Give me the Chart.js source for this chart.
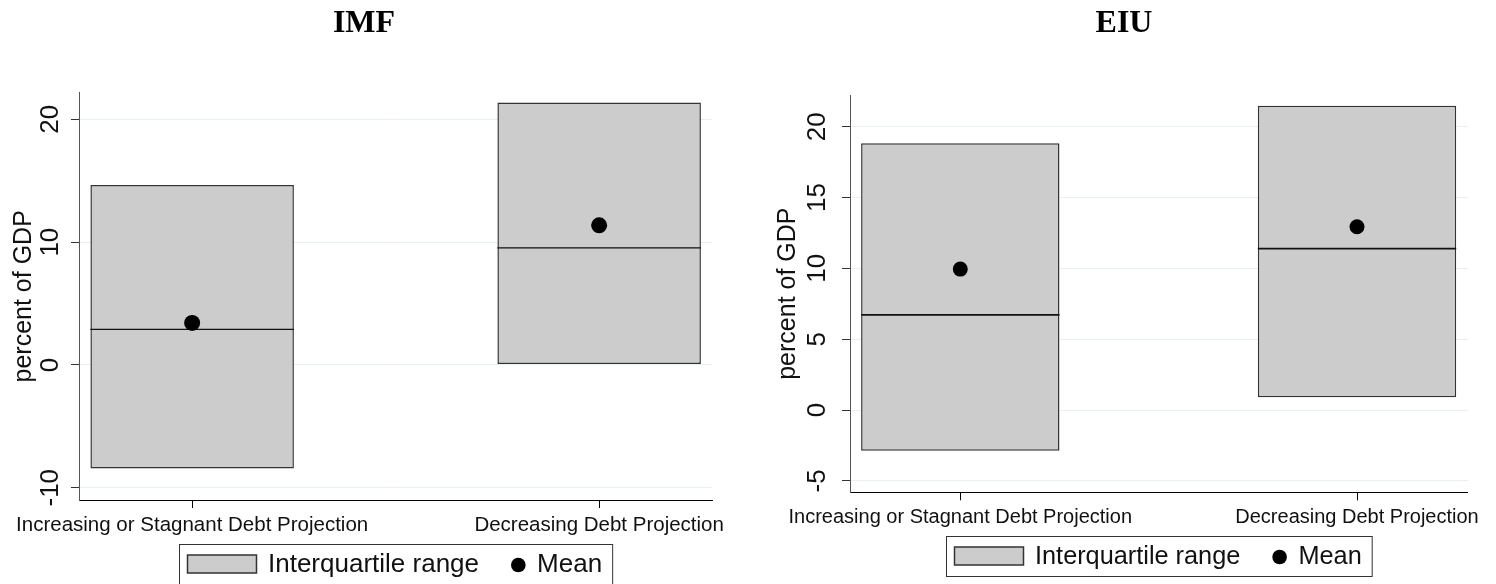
<!DOCTYPE html>
<html>
<head>
<meta charset="utf-8">
<script src="https://cdn.jsdelivr.net/npm/chart.js@4.4.0/dist/chart.umd.min.js"></script>
<style>
  html, body { margin: 0; padding: 0; background: #fff; }
  #wrap { position: relative; width: 1496px; height: 584px; overflow: hidden; }
  .panel { position: absolute; top: 0; width: 748px; height: 584px; }
  .title {
    position: absolute; top: 5px; z-index: 2;
    font: bold 32px "Liberation Serif", "Times New Roman", serif;
    line-height: 32px; white-space: nowrap; transform: translateX(-50%);
  }
</style>
</head>
<body>
<div id="wrap">
  <div class="panel" style="left:0"><canvas id="imfChart" width="748" height="584"></canvas></div>
  <div class="panel" style="left:748px"><canvas id="eiuChart" width="748" height="584"></canvas></div>
  <div class="title" style="left:364px">IMF</div>
  <div class="title" style="left:1124px">EIU</div>
</div>
<script>
const categories = ['Increasing or Stagnant Debt Projection', 'Decreasing Debt Projection'];
const legendLabels = ['Interquartile range', 'Mean'];

// IMF panel (percent of GDP)
const imfQ1 = [-8.44, 0.08];
const imfQ3 = [14.66, 21.38];
const imfMedian = [2.90, 9.53];
const imfMean = [3.42, 11.37];
const imfTicks = [-10, 0, 10, 20];

// EIU panel (percent of GDP)
const eiuQ1 = [-2.87, 0.90];
const eiuQ3 = [18.83, 21.48];
const eiuMedian = [6.71, 11.39];
const eiuMean = [9.95, 12.94];
const eiuTicks = [-5, 0, 5, 10, 15, 20];

Chart.defaults.font.family = '"Liberation Sans", Arial, Helvetica, sans-serif';
Chart.defaults.color = '#111';

const halfBox = 0.25; // matches barPercentage 0.5 of a one-unit gap

// boxed legend under the plot, like the Stata one
const legendBox = {
  id: 'legendBox',
  afterDraw(chart, args, opts) {
    const ctx = chart.ctx;
    const area = chart.chartArea;
    ctx.save();
    ctx.font = opts.fontSize + 'px "Liberation Sans", Arial, sans-serif';
    const w1 = ctx.measureText(legendLabels[0]).width;
    const w2 = ctx.measureText(legendLabels[1]).width;
    const padL = 8.5, swW = 69, swH = 18, gap = 11.5, gap2 = 32, dotR = 7.3, padR = 10, h = 40;
    const width = padL + swW + gap + w1 + gap2 + 2 * dotR + gap + w2 + padR;
    const left = Math.round((area.left + area.right) / 2 - width / 2);
    const top = Math.round(area.bottom + opts.offset);
    const cy = top + h / 2;

    ctx.strokeStyle = '#333';
    ctx.lineWidth = 1;
    ctx.strokeRect(left + 0.5, top + 0.5, width, h);

    let x = left + padL;
    ctx.fillStyle = '#cccccc';
    ctx.fillRect(x, cy - swH / 2, swW, swH);
    ctx.lineWidth = 1.5;
    ctx.strokeStyle = '#333';
    ctx.strokeRect(x, cy - swH / 2, swW, swH);
    x += swW + gap;

    ctx.fillStyle = '#111';
    ctx.textBaseline = 'middle';
    ctx.textAlign = 'left';
    ctx.fillText(legendLabels[0], x, cy + 1);
    x += w1 + gap2;

    ctx.beginPath();
    ctx.arc(x + dotR, cy + 1, dotR, 0, Math.PI * 2);
    ctx.fillStyle = '#000';
    ctx.fill();
    x += 2 * dotR + gap;

    ctx.fillStyle = '#111';
    ctx.fillText(legendLabels[1], x, cy + 1);
    ctx.restore();
  }
};

function makeChart(id, q1, q3, med, mean, ticks, o) {
  const boxes = categories.map((c, i) => ({ x: i + 1, y: [q1[i], q3[i]] }));
  const medianPts = [];
  med.forEach((m, i) => {
    medianPts.push({ x: i + 1 - halfBox, y: m }, { x: i + 1 + halfBox, y: m }, { x: i + 1.5, y: null });
  });
  const meanPts = mean.map((m, i) => ({ x: i + 1, y: m }));

  return new Chart(document.getElementById(id), {
    type: 'bar',
    data: {
      datasets: [
        {
          label: 'Interquartile range',
          data: boxes,
          backgroundColor: '#cccccc',
          borderColor: '#333',
          borderWidth: 1.5,
          borderSkipped: false,
          categoryPercentage: 1,
          barPercentage: 0.5,
          order: 3
        },
        {
          type: 'line',
          label: 'Median',
          data: medianPts,
          borderColor: '#111',
          borderWidth: o.medWidth,
          pointRadius: 0,
          spanGaps: false,
          order: 2
        },
        {
          type: 'scatter',
          label: 'Mean',
          data: meanPts,
          backgroundColor: '#000',
          borderWidth: 0,
          pointRadius: o.dotR,
          order: 1
        }
      ]
    },
    options: {
      responsive: false,
      animation: false,
      layout: { padding: o.padding },
      plugins: {
        legend: { display: false },
        tooltip: { enabled: false },
        legendBox: { fontSize: o.legendFont, offset: 44 }
      },
      scales: {
        x: {
          type: 'linear',
          offset: false,
          min: 0.722,
          max: 2.279,
          afterBuildTicks: s => { s.ticks = categories.map((c, i) => ({ value: i + 1 })); },
          afterFit: s => { s.height = 40; s.paddingLeft = 0; s.paddingRight = 0; },
          grid: { offset: false, drawOnChartArea: false, drawTicks: true, tickLength: 8, tickColor: '#000' },
          border: { color: '#000', width: 1 },
          ticks: {
            autoSkip: false, maxRotation: 0, padding: 5, color: '#111',
            font: { size: o.xFont },
            callback: v => categories[v - 1]
          }
        },
        y: {
          min: o.yMin,
          max: o.yMax,
          afterBuildTicks: s => { s.ticks = ticks.map(v => ({ value: v })); },
          afterFit: s => { s.width = o.yWidth; },
          grid: { color: '#e8f0f2', lineWidth: 1, tickLength: 8, tickColor: '#333' },
          border: { color: '#555', width: 1 },
          ticks: {
            minRotation: 90, maxRotation: 90, crossAlign: 'center',
            padding: o.yPad, color: '#111', font: { size: 26 }
          },
          title: {
            display: true, text: 'percent of GDP', color: '#111',
            font: { size: 25 }, padding: { top: o.titlePad, bottom: 0 }
          }
        }
      }
    },
    plugins: [legendBox]
  });
}

makeChart('imfChart', imfQ1, imfQ3, imfMedian, imfMean, imfTicks, {
  yMin: -11.0, yMax: 22.17,
  padding: { left: 0, right: 35.3, top: 92.7, bottom: 44 },
  yWidth: 79, yPad: 1, titlePad: 9,
  xFont: 20.5, legendFont: 26, medWidth: 1.2, dotR: 8
});

makeChart('eiuChart', eiuQ1, eiuQ3, eiuMedian, eiuMean, eiuTicks, {
  yMin: -5.81, yMax: 22.24,
  padding: { left: 0, right: 28.3, top: 95, bottom: 51.7 },
  yWidth: 102, yPad: 9.5, titlePad: 25,
  xFont: 20, legendFont: 25.3, medWidth: 1.8, dotR: 7.5
});
</script>
</body>
</html>
